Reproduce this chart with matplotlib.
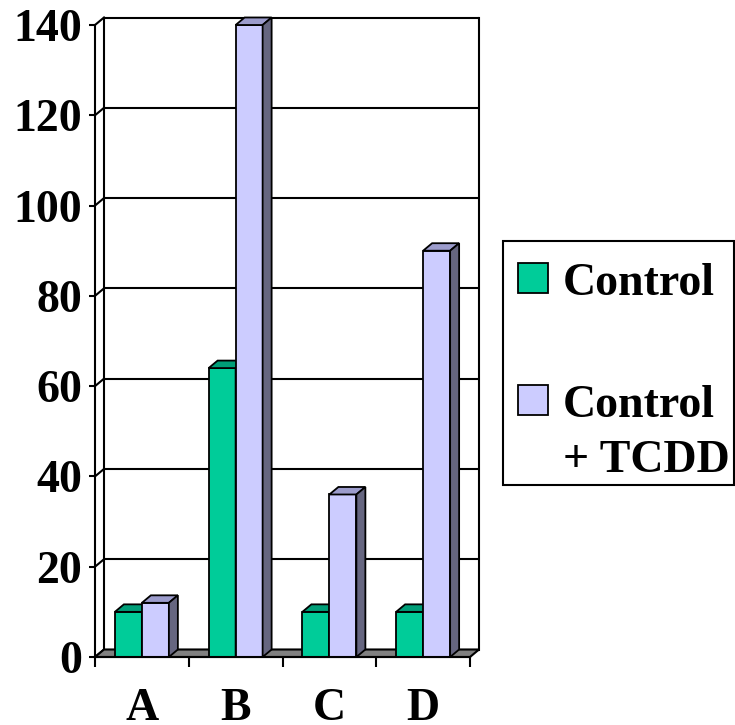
import matplotlib
matplotlib.use("Agg")
import matplotlib.pyplot as plt
from matplotlib.patches import Polygon, Rectangle
import numpy as np

categories = ["A", "B", "C", "D"]
control = [10, 64, 10, 10]
control_tcdd = [12, 140, 36, 90]
series_names = ["Control", "Control\n+ TCDD"]
yticks = [0, 20, 40, 60, 80, 100, 120, 140]

face_cols = ["#00CC99", "#CCCCFF"]
top_cols = ["#009E78", "#9C9CCC"]
side_cols = ["#007A5C", "#666680"]

FONT = "Liberation Serif"
FS = 33
W, H = 735, 725
fig = plt.figure(figsize=(W / 100, H / 100), dpi=100)
ax = fig.add_axes([95 / W, (H - 657) / H, 375 / W, 632 / H])
ax.set_xlim(-0.5, len(categories) - 0.5)
ax.set_ylim(0, 140)

# depth offset in pixels converted to data units via axes transform
DXp, DYp = 9, 7.5
inv = ax.transData.inverted()
p0 = ax.transData.transform((0, 0))
b0 = inv.transform(p0)
b1 = inv.transform(p0 + np.array([DXp, DYp]))
ddx, ddy = b1[0] - b0[0], b1[1] - b0[1]

LW = 1.5
x0, x1 = -0.5, len(categories) - 0.5
ymax = yticks[-1]
# back wall gridlines
for v in yticks:
    ax.plot([x0 + ddx, x1 + ddx], [v + ddy, v + ddy], color="black", lw=LW,
            clip_on=False, zorder=1, solid_capstyle="butt")
    ax.plot([x0, x0 + ddx], [v, v + ddy], color="black", lw=LW, clip_on=False, zorder=1)
# wall edges
ax.plot([x0 + ddx, x0 + ddx], [ddy, ymax + ddy], color="black", lw=LW, clip_on=False, zorder=1)
ax.plot([x1 + ddx, x1 + ddx], [ddy, ymax + ddy], color="black", lw=LW, clip_on=False, zorder=1)

# floor
floor = Polygon([(x0, 0), (x1, 0), (x1 + ddx, ddy), (x0 + ddx, ddy)], closed=True,
                facecolor="#808080", edgecolor="black", lw=LW, clip_on=False, zorder=2)
ax.add_patch(floor)

# bars
bw = 0.288
z = 3
for i in range(len(categories)):
    for s, vals in enumerate([control, control_tcdd]):
        v = vals[i]
        left = i - bw + s * bw
        right = left + bw
        ax.bar(left, v, width=bw, align="edge", color=face_cols[s], edgecolor="black",
               lw=1.3, zorder=z, clip_on=False)
        top = Polygon([(left, v), (right, v), (right + ddx, v + ddy), (left + ddx, v + ddy)],
                      closed=True, facecolor=top_cols[s], edgecolor="black", lw=1.3,
                      zorder=z, clip_on=False, joinstyle="miter")
        side = Polygon([(right, 0), (right + ddx, ddy), (right + ddx, v + ddy), (right, v)],
                       closed=True, facecolor=side_cols[s], edgecolor="black", lw=1.3,
                       zorder=z, clip_on=False, joinstyle="miter")
        ax.add_patch(top)
        ax.add_patch(side)
        z += 1

# axes styling
for sp in ["top", "right"]:
    ax.spines[sp].set_visible(False)
for sp in ["left", "bottom"]:
    ax.spines[sp].set_linewidth(LW)
    ax.spines[sp].set_zorder(20)
ax.set_yticks(yticks)
ax.set_yticklabels([str(t) for t in yticks], fontfamily=FONT, fontweight="bold", fontsize=FS)
ax.tick_params(axis="y", length=4.5, width=LW, pad=5)
ax.set_xticks(range(len(categories)))
ax.set_xticklabels(categories, fontfamily=FONT, fontweight="bold", fontsize=FS)
ax.set_xticks(np.arange(x0, x1 + 0.01, 1.0), minor=True)
ax.tick_params(axis="x", which="major", length=0, pad=22)
ax.tick_params(axis="x", which="minor", length=7, width=LW)
ax.patch.set_alpha(0)

# legend (manual)
fig.patches.append(Rectangle((503 / W, (H - 485) / H), 231 / W, 244 / H, transform=fig.transFigure,
                             facecolor="white", edgecolor="black", lw=LW, zorder=30))
mark_y = [263, 385]
text_base = [[295], [417, 472]]
for s in range(2):
    fig.patches.append(Rectangle((518 / W, (H - mark_y[s] - 30) / H), 30 / W, 30 / H,
                                 transform=fig.transFigure, facecolor=face_cols[s],
                                 edgecolor="black", lw=1.3, zorder=31))
    for line, yb in zip(series_names[s].split("\n"), text_base[s]):
        fig.text(563 / W, (H - yb) / H, line, fontfamily=FONT,
                 fontweight="bold", fontsize=FS, va="baseline", ha="left", zorder=32)

fig.savefig("out.png", dpi=100)
